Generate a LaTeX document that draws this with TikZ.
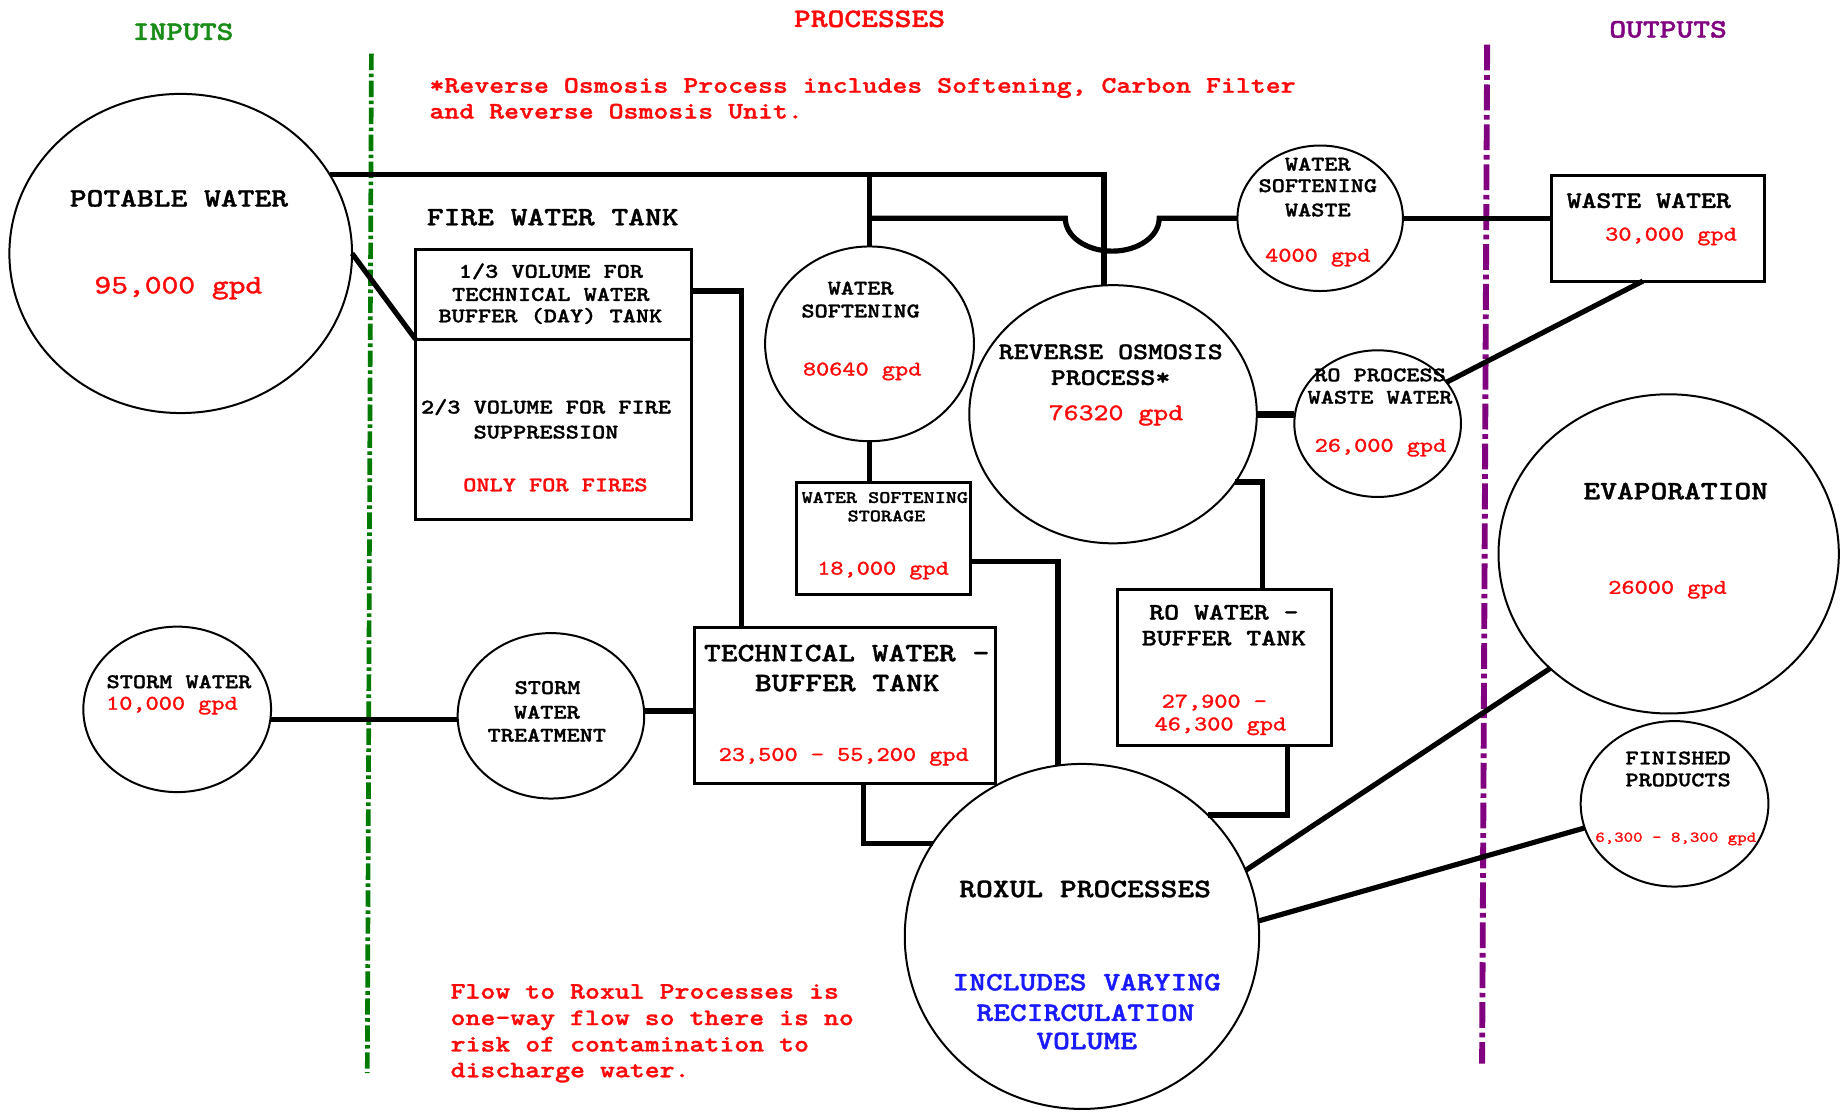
\documentclass[tikz,border=0pt]{standalone}
\usepackage{graphicx}
\usepackage{fontspec}
\newfontfamily\monoB{lmmonolt10-bold.otf}[FakeBold=1.2]
\newfontfamily\monoR{lmmono10-regular.otf}[FakeBold=1.4]
\usetikzlibrary{shapes.geometric}
\definecolor{ired}{HTML}{FF0A0A}
\definecolor{igreen}{HTML}{178C17}
\definecolor{lgreen}{HTML}{007A00}
\definecolor{ipurple}{HTML}{800080}
\definecolor{iblue}{HTML}{1A1AFF}
\newcommand\mytext[5]{\node[#4] (#1) at (#2,#3) {\scalebox{1.2}[1]{#5}};}
\tikzset{
  lbl/.style={anchor=base, inner sep=0pt, outer sep=0pt},
  big/.style={lbl, font=\monoB\fontsize{11.35}{13}\selectfont},
  med/.style={lbl, font=\monoB\fontsize{10.1}{12}\selectfont},
  sml/.style={lbl, font=\monoB\fontsize{8.9}{10}\selectfont},
  tny/.style={lbl, font=\monoB\fontsize{7.5}{9}\selectfont},
  valbig/.style={lbl, text=ired, font=\monoR\fontsize{11.35}{13}\selectfont},
  valmed/.style={lbl, text=ired, font=\monoR\fontsize{10.1}{12}\selectfont},
  valsml/.style={lbl, text=ired, font=\monoR\fontsize{8.9}{10}\selectfont},
  valfin/.style={lbl, text=ired, font=\monoR\fontsize{6.4}{8}\selectfont},
  notetext/.style={anchor=base west, inner sep=0pt, outer sep=0pt, text=ired, font=\monoB\fontsize{10.1}{12}\selectfont},
  oval/.style={ellipse, draw=black, line width=0.85pt, inner sep=0pt, outer sep=0pt},
  tank/.style={rectangle, draw=black, line width=1.3pt, inner sep=0pt, outer sep=0pt},
  pipe/.style={draw=black, line width=2.2pt},
  fatpipe/.style={draw=black, line width=3pt},
  greendash/.style={draw=lgreen, line width=2pt, dash pattern=on 7pt off 1.5pt on 1.5pt off 1.5pt},
  purpledash/.style={draw=ipurple, line width=2.5pt, dash pattern=on 11pt off 2pt on 2pt off 2pt},
}
\begin{document}
\begin{tikzpicture}[x=0.5pt, y=-0.5pt]
\useasboundingbox (0,0) rectangle (1568,948);

% boundary lines
\draw[greendash] (316.5,45.7) -- (313,914.5);
\draw[purpledash] (1267.3,38) -- (1263,906.3);

% shapes
\node[oval, minimum width=146pt, minimum height=136pt] (potable) at (154,216) {};
\node[oval, minimum width=89pt, minimum height=83pt] (ws) at (741,293) {};
\node[oval, minimum width=122.5pt, minimum height=110pt] (ro) at (948.5,353) {};
\node[oval, minimum width=71pt, minimum height=62.5pt] (row) at (1174,361) {};
\node[oval, minimum width=70.5pt, minimum height=62pt] (wsw) at (1125,186) {};
\node[oval, minimum width=145pt, minimum height=136pt] (evap) at (1422,472) {};
\node[oval, minimum width=80pt, minimum height=70.5pt] (fin) at (1427,685) {};
\node[oval, minimum width=151pt, minimum height=147pt] (roxul) at (922,798) {};
\node[oval, minimum width=80pt, minimum height=70.5pt] (storm) at (151,604.5) {};
\node[oval, minimum width=79.5pt, minimum height=70.5pt] (swt) at (469.5,610) {};

\node[tank, minimum width=117.5pt, minimum height=115pt] (fire) at (471.5,328) {};
\node[tank, minimum width=74pt, minimum height=47.75pt] (wss) at (753,459.25) {};
\node[tank, minimum width=128pt, minimum height=66.25pt] (tech) at (720,601.25) {};
\node[tank, minimum width=91.5pt, minimum height=66.75pt] (rob) at (1043.5,568.75) {};
\node[tank, minimum width=91pt, minimum height=45pt] (ww) at (1413,194.5) {};

\coordinate (div) at (0,289);
\draw[line width=1.3pt] (fire.west |- div) -- (fire.east |- div);

% connectors
\draw[pipe] (potable.28) -- (potable.28 -| ro.94) -- (ro.94);
\draw[pipe] (ws.north) -- (ws.north |- potable.28);
\draw[pipe] (ws.north |- wsw.west) -- ([xshift=-16.5pt]ro.94 |- wsw.west)
   arc[start angle=180, end angle=360, x radius=20pt, y radius=14pt] -- (wsw.west);
\draw[pipe] (ws.south) -- (ws.south |- wss.north);
\draw[pipe] ([yshift=-9.5pt]wss.east) -| (roxul.98);
\draw[pipe] ([yshift=40pt]fire.east) -| ([xshift=20pt]tech.north west);
\draw[pipe] (potable.east) -- (fire.west |- div);
\draw[pipe] (storm.-6) -- (storm.-6 -| swt.west);
\draw[pipe] (swt.3) -- (swt.3 -| tech.west);
\draw[pipe] ([xshift=8pt]tech.south) |- (roxul.148);
\draw[fatpipe] (ro.east) -- (ro.east -| row.west);
\draw[pipe] (ro.-29) -| ([xshift=16.25pt]rob.north);
\draw[pipe] ([xshift=26.75pt]rob.south) |- (roxul.44);
\draw[pipe] (wsw.east) -- (wsw.east -| ww.west);
\draw[pipe] (row.31) -- ([xshift=-6.5pt]ww.south);
\draw[pipe] (roxul.22) -- (evap.224);
\draw[pipe] (roxul.5) -- (fin.195);

% titles
\mytext{tin}{156}{34}{big, text=igreen}{INPUTS}
\mytext{tpr}{741}{23}{big, text=ired}{PROCESSES}
\mytext{tout}{1421.5}{32}{big, text=ipurple}{OUTPUTS}

% notes
\mytext{nA}{366}{79}{notetext}{*Reverse Osmosis Process includes Softening, Carbon Filter}
\mytext{nB}{366}{101}{notetext}{and Reverse Osmosis Unit.}
\mytext{nC}{384}{851}{notetext}{Flow to Roxul Processes is}
\mytext{nD}{384}{873.5}{notetext}{one-way flow so there is no}
\mytext{nE}{384}{896}{notetext}{risk of contamination to}
\mytext{nF}{384}{918}{notetext}{discharge water.}

% potable
\mytext{pA}{152.5}{176}{big}{POTABLE WATER}
\mytext{pB}{152}{250}{valbig}{95,000 gpd}

% fire water tank
\mytext{fT}{471}{192}{big}{FIRE WATER TANK}
\mytext{fA}{469.5}{236.7}{sml}{1/3 VOLUME FOR}
\mytext{fB}{469.4}{256.4}{sml}{TECHNICAL WATER}
\mytext{fC}{469}{274.7}{sml}{BUFFER (DAY) TANK}
\mytext{fD}{465.3}{352.4}{sml}{2/3 VOLUME FOR FIRE}
\mytext{fE}{465.3}{373.7}{sml}{SUPPRESSION}
\mytext{fF}{473.3}{418.7}{sml, text=ired}{ONLY FOR FIRES}

% water softening
\mytext{wsA}{733.4}{251}{sml}{WATER}
\mytext{wsB}{733.4}{270.5}{sml}{SOFTENING}
\mytext{wsC}{734.7}{320}{valsml}{80640 gpd}

% water softening storage
\mytext{wssA}{754}{428.6}{tny}{WATER SOFTENING}
\mytext{wssB}{755.4}{444.3}{tny}{STORAGE}
\mytext{wssC}{752.5}{489.7}{valsml}{18,000 gpd}

% reverse osmosis
\mytext{roA}{946.5}{306}{med}{REVERSE OSMOSIS}
\mytext{roB}{946.4}{328}{med}{PROCESS*}
\mytext{roC}{951}{358}{valmed}{76320 gpd}

% water softening waste
\mytext{wswA}{1123}{145.4}{sml}{WATER}
\mytext{wswB}{1123}{163.7}{sml}{SOFTENING}
\mytext{wswC}{1123}{184.4}{sml}{WASTE}
\mytext{wswD}{1123}{223}{valsml}{4000 gpd}

% RO process waste water
\mytext{rowA}{1176}{325}{sml}{RO PROCESS}
\mytext{rowB}{1176}{344}{sml}{WASTE WATER}
\mytext{rowC}{1176.4}{385}{valsml}{26,000 gpd}

% waste water
\mytext{wwA}{1405}{177.2}{med}{WASTE WATER}
\mytext{wwB}{1424}{205}{valsml}{30,000 gpd}

% evaporation
\mytext{evA}{1428}{425.5}{big}{EVAPORATION}
\mytext{evB}{1421}{506}{valsml}{26000 gpd}

% finished products
\mytext{fpA}{1430}{651.4}{sml}{FINISHED}
\mytext{fpB}{1430}{670.1}{sml}{PRODUCTS}
\mytext{fpC}{1428}{717.4}{valfin}{6,300 - 8,300 gpd}

% RO water buffer tank
\mytext{robA}{1043}{528}{med}{RO WATER -}
\mytext{robB}{1043}{550}{med}{BUFFER TANK}
\mytext{robC}{1034.8}{603}{valsml}{27,900 -}
\mytext{robD}{1040}{622.4}{valsml}{46,300 gpd}

% technical water buffer tank
\mytext{tA}{721.5}{563.5}{big}{TECHNICAL WATER -}
\mytext{tB}{722}{589}{big}{BUFFER TANK}
\mytext{tC}{719}{648.4}{valsml}{23,500 - 55,200 gpd}

% storm water
\mytext{sA}{152.5}{586.4}{sml}{STORM WATER}
\mytext{sB}{146.5}{604.8}{valsml}{10,000 gpd}

% storm water treatment
\mytext{stA}{466.6}{591.4}{sml}{STORM}
\mytext{stB}{466}{612.4}{sml}{WATER}
\mytext{stC}{466}{632}{sml}{TREATMENT}

% roxul
\mytext{rxA}{924.7}{764.5}{big}{ROXUL PROCESSES}
\mytext{rxB}{926}{844}{big, text=iblue}{INCLUDES VARYING}
\mytext{rxC}{925}{870}{big, text=iblue}{RECIRCULATION}
\mytext{rxD}{926}{894}{big, text=iblue}{VOLUME}
\end{tikzpicture}
\end{document}
